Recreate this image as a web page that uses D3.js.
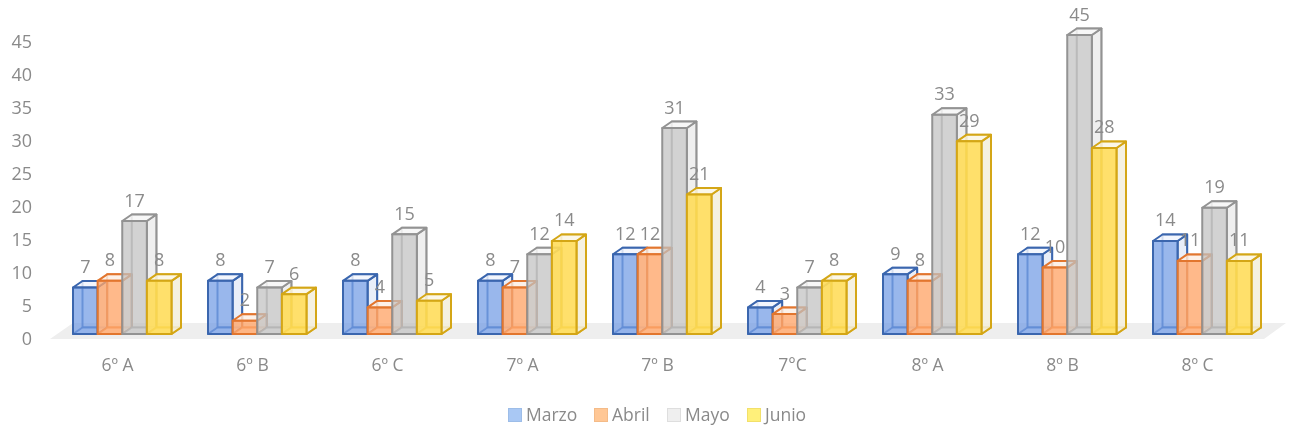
<!DOCTYPE html>
<html><head><meta charset="utf-8">
<script src="https://cdn.jsdelivr.net/npm/d3@7/dist/d3.min.js"></script>
<style>html,body{margin:0;padding:0;background:#fff;overflow:hidden}svg{display:block}text{font-family:"Open Sans",sans-serif;fill:#8a8a8a}</style>
</head><body><svg id="c" width="1289" height="430"></svg>
<script>
const categories = ["6º A","6º B","6º C","7º A","7º B","7°C","8º A","8º B","8º C"];
const seriesNames = ["Marzo","Abril","Mayo","Junio"];
const marzo = [7,8,8,8,12,4,9,12,14];
const abril = [8,2,4,7,12,3,8,10,11];
const mayo = [17,7,15,12,31,7,33,45,19];
const junio = [8,6,5,14,21,8,29,28,11];
const tickValues = [0,5,10,15,20,25,30,35,40,45];
const seriesValues = [marzo,abril,mayo,junio];
const styles = [
 {front:"rgba(110,152,228,.70)",side:"rgba(225,232,245,.75)",top:"rgba(240,244,252,.8)",stroke:"#3a66ae",legend:"#a9c8f4",legendStroke:"#9dbde8"},
 {front:"rgba(255,165,105,.78)",side:"rgba(250,225,205,.75)",top:"rgba(252,238,226,.8)",stroke:"#e2762f",legend:"#ffc795",legendStroke:"#f4bb88"},
 {front:"rgba(192,192,192,.72)",side:"rgba(236,236,236,.85)",top:"rgba(246,246,246,.85)",stroke:"#939393",legend:"#efefef",legendStroke:"#dedede"},
 {front:"rgba(255,220,85,.88)",side:"rgba(243,238,220,.85)",top:"rgba(250,246,228,.85)",stroke:"#d4a615",legend:"#fff07a",legendStroke:"#f2e06a"}
];
const svg = d3.select("#c");
svg.append("defs").append("filter").attr("id","soft").attr("x","-2%").attr("y","-2%").attr("width","104%").attr("height","104%")
  .append("feGaussianBlur").attr("stdDeviation",0.4);
const root = svg.append("g").attr("filter","url(#soft)");
const x0 = d3.scaleBand().domain(categories).range([50,1265]);
const x1 = d3.scaleBand().domain(seriesNames).range([23,121.5]);
const yBar = d3.scaleLinear().domain([0,45]).range([334,35]);
const yAxisScale = d3.scaleLinear().domain([0,45]).range([338.5,41]);
const dx = 9.5, dy = -6.5;

// floor
const y0 = yBar(0);
root.append("path").attr("d",d3.line()([[50,339],[73,323],[1286,323],[1264,339]])+"Z").attr("fill","#eeeeee");

// y axis
const yAxis = d3.axisLeft(yAxisScale).tickValues(tickValues).tickSize(0).tickPadding(0);
const gy = root.append("g").attr("transform","translate(32,0)").call(yAxis);
gy.select(".domain").remove();
gy.selectAll("text").attr("font-size",18).attr("dy","0.35em");

// x axis labels
const xAxis = d3.axisBottom(x0).tickSize(0).tickPadding(0);
const gx = root.append("g").attr("transform","translate(0,359)").call(xAxis);
gx.select(".domain").remove();
gx.selectAll("text").attr("font-size",17.5).attr("dy","0.71em");

// bars
categories.forEach((cat,ci)=>{
  const g = root.append("g");
  seriesNames.forEach((s,si)=>{
    const v = seriesValues[si][ci], st = styles[si];
    const xl = x0(cat)+x1(s), xr = xl+x1.bandwidth(), yt = yBar(v), yb = y0;
    const b = g.append("g").attr("stroke",st.stroke).attr("stroke-width",2).attr("stroke-linejoin","round");
    const poly = (pts,fill,extra)=>b.append("path").attr("d",d3.line()(pts)+"Z").attr("fill",fill).attr("stroke-opacity",extra||1);
    poly([[xl+dx,yt+dy],[xr+dx,yt+dy],[xr+dx,yb+dy],[xl+dx,yb+dy]],"none",.8);
    poly([[xl,yb],[xr,yb],[xr+dx,yb+dy],[xl+dx,yb+dy]],st.top,.8);
    poly([[xr,yt],[xr+dx,yt+dy],[xr+dx,yb+dy],[xr,yb]],st.side);
    poly([[xl,yt],[xr,yt],[xr+dx,yt+dy],[xl+dx,yt+dy]],st.top);
    poly([[xl,yt],[xr,yt],[xr,yb],[xl,yb]],st.front);
  });
});

// data labels
const labels = root.append("g");
categories.forEach((cat,ci)=>{
  seriesNames.forEach((s,si)=>{
    const v = seriesValues[si][ci];
    labels.append("text").attr("x",x0(cat)+x1(s)+x1.bandwidth()/2).attr("y",yBar(v)-14.5)
      .attr("text-anchor","middle").attr("font-size",18).text(v);
  });
});

// legend
const legendX = [508,594,667,747];
const lg = root.append("g");
seriesNames.forEach((s,i)=>{
  lg.append("rect").attr("x",legendX[i]+.5).attr("y",408.5).attr("width",13).attr("height",13)
    .attr("fill",styles[i].legend).attr("stroke",styles[i].legendStroke);
  lg.append("text").attr("x",legendX[i]+18).attr("y",421).attr("font-size",17.5).text(s);
});
</script></body></html>
